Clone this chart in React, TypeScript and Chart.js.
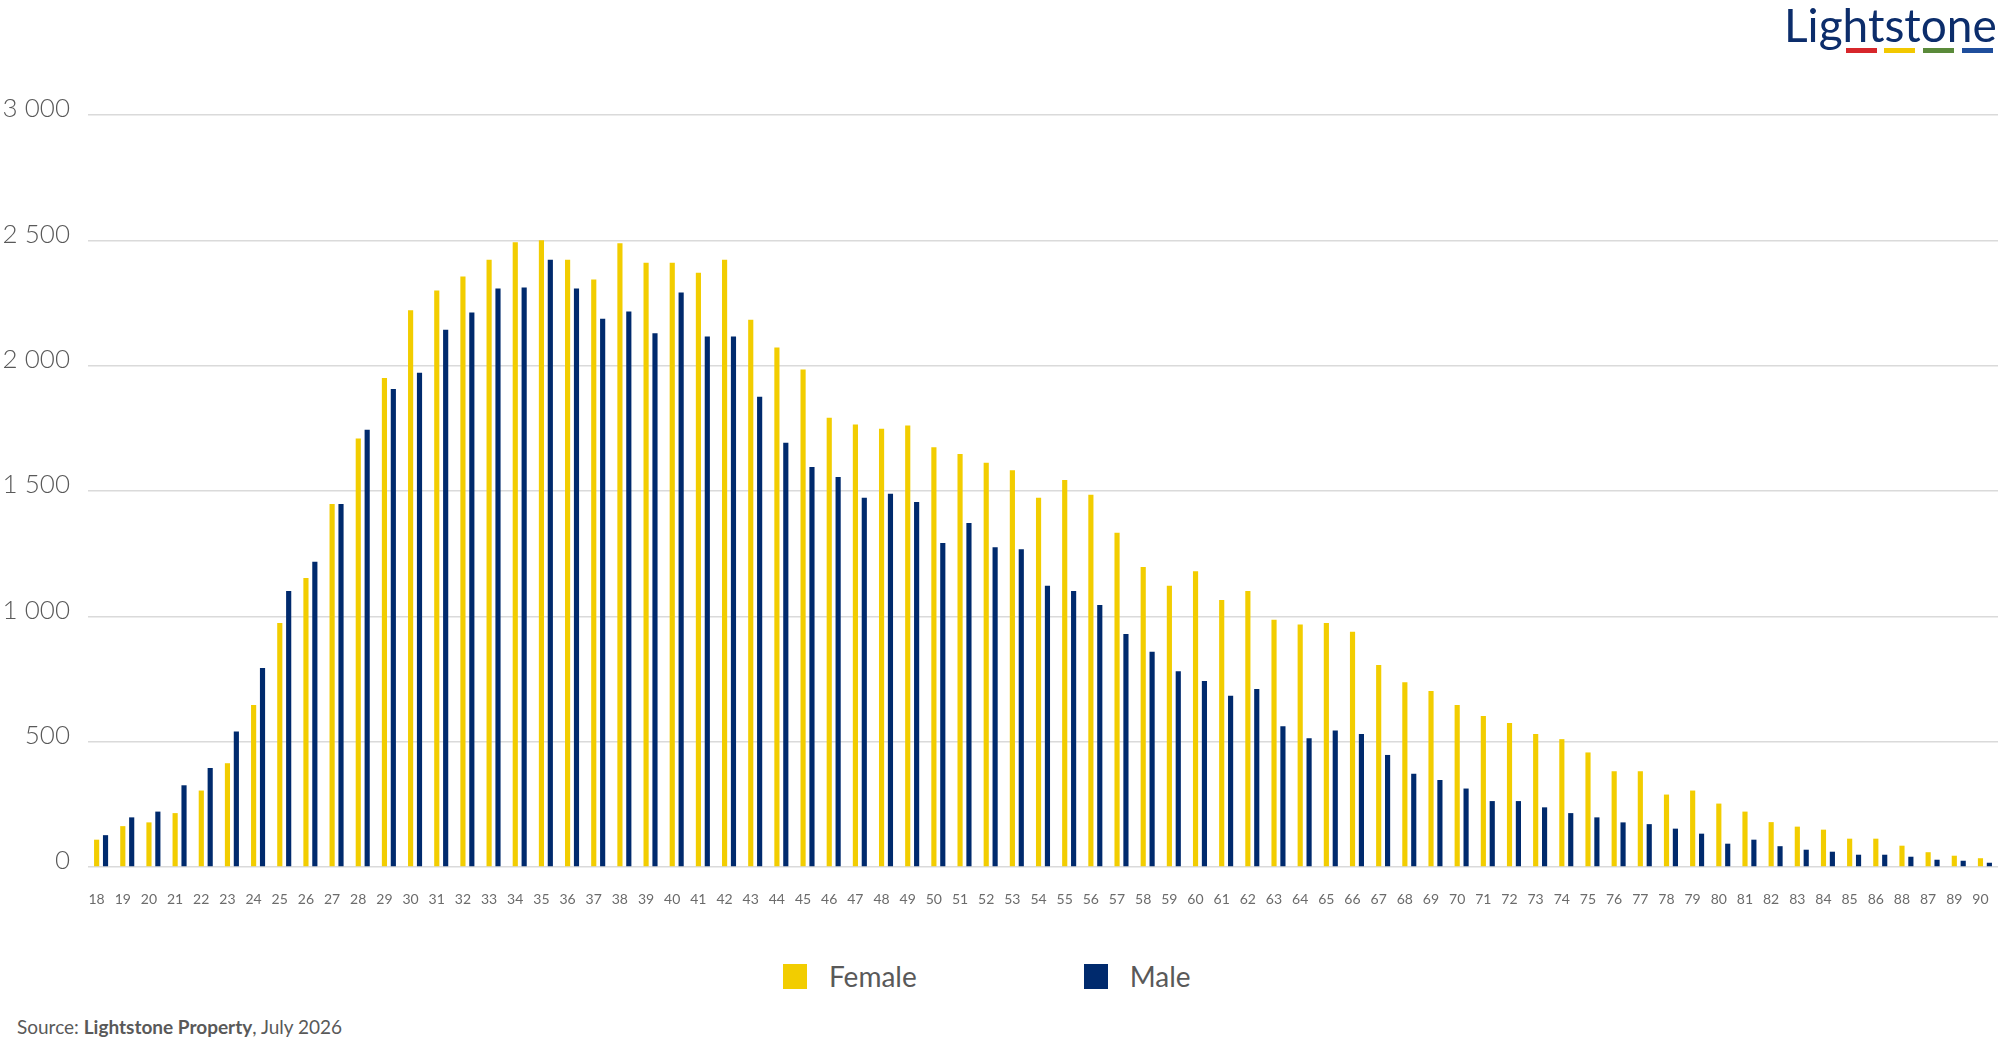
import { useEffect, useRef } from 'react';
import { Chart, registerables } from 'chart.js';

Chart.register(...registerables);

// age groups, in the order the source shows them
const ages = [
  '18', '19', '20', '21', '22', '23', '24', '25', '26', '27',
  '28', '29', '30', '31', '32', '33', '34', '35', '36', '37',
  '38', '39', '40', '41', '42', '43', '44', '45', '46', '47',
  '48', '49', '50', '51', '52', '53', '54', '55', '56', '57',
  '58', '59', '60', '61', '62', '63', '64', '65', '66', '67',
  '68', '69', '70', '71', '72', '73', '74', '75', '76', '77',
  '78', '79', '80', '81', '82', '83', '84', '85', '86', '88',
  '87', '89', '90',
];

const female = [
  109, 163, 178, 215, 305, 414, 646, 973, 1153, 1448,
  1709, 1951, 2221, 2300, 2356, 2423, 2492, 2500, 2423, 2344,
  2488, 2411, 2411, 2371, 2423, 2183, 2072, 1985, 1792, 1765,
  1748, 1761, 1675, 1648, 1613, 1583, 1473, 1544, 1485, 1333,
  1197, 1122, 1180, 1065, 1101, 986, 967, 973, 938, 806,
  737, 702, 646, 602, 574, 531, 510, 457, 382, 382,
  289, 305, 253, 221, 179, 161, 149, 113, 113, 85,
  59, 45, 35,
];

const male = [
  127, 198, 221, 326, 395, 541, 794, 1101, 1218, 1448,
  1744, 1907, 1972, 2143, 2212, 2308, 2312, 2423, 2308, 2187,
  2216, 2129, 2292, 2116, 2116, 1876, 1692, 1596, 1556, 1473,
  1489, 1456, 1293, 1372, 1276, 1268, 1122, 1101, 1045, 930,
  859, 781, 742, 683, 710, 562, 514, 545, 531, 447,
  372, 347, 313, 263, 263, 238, 215, 198, 178, 171,
  153, 133, 93, 109, 83, 69, 61, 49, 49, 41,
  29, 25, 17,
];

const seriesNames = ['Female', 'Male'];
const seriesColors = ['#F2CD00', '#002A6D'];
const yMin = 0;
const yMax = 3000;
const yStep = 500;

const FONT = 'Lato, "Open Sans", sans-serif';
const GREY = '#595959';

function spaced(v: number) {
  return String(v).replace(/\B(?=(\d{3})+(?!\d))/g, ' ');
}

function AgeChart() {
  const canvasRef = useRef<HTMLCanvasElement | null>(null);

  useEffect(() => {
    if (!canvasRef.current) return;
    const chart = new Chart(canvasRef.current, {
      type: 'bar',
      data: {
        labels: ages,
        datasets: [female, male].map((d, i) => ({
          label: seriesNames[i],
          data: d,
          backgroundColor: seriesColors[i],
          categoryPercentage: 0.68,
          barPercentage: 0.58,
        })),
      },
      options: {
        responsive: false,
        animation: false,
        layout: { padding: { top: 115, right: 2, left: 0, bottom: 0 } },
        plugins: {
          legend: { display: false },
          tooltip: { enabled: false },
        },
        scales: {
          x: {
            // hidden tick marks still push the labels down without adding side padding
            grid: { display: false, drawTicks: true, tickLength: 22 },
            border: { display: false },
            ticks: {
              color: '#6b6b6b',
              font: { family: FONT, size: 14 },
              padding: 2,
              labelOffset: -4.5,
              autoSkip: false,
              maxRotation: 0,
            },
            afterFit: (s: any) => {
              s.height = 63;
            },
          },
          y: {
            min: yMin,
            max: yMax,
            grid: { color: '#dadada', lineWidth: 1.5, drawTicks: false },
            border: { display: false },
            ticks: {
              stepSize: yStep,
              padding: 18,
              labelOffset: -6,
              color: GREY,
              font: { family: FONT, size: 26, weight: 300 },
              callback: (v: any) => spaced(Number(v)),
            },
            afterFit: (s: any) => {
              s.width = 88;
            },
          },
        },
      },
    });
    return () => chart.destroy();
  }, []);

  return <canvas ref={canvasRef} width={2000} height={930} style={{ display: 'block' }} />;
}

export default function App() {
  const bars = ['#D7262B', '#F2C800', '#5A8A3A', '#1F4E9C'];
  const barLeft = [1846, 1884, 1923, 1962];
  return (
    <div
      style={{
        position: 'absolute',
        left: 0,
        top: 0,
        width: 2000,
        height: 1050,
        background: '#fff',
        fontFamily: FONT,
        overflow: 'hidden',
      }}
    >
      <AgeChart />

      {/* logo */}
      <div
        style={{
          position: 'absolute',
          left: 1784,
          top: 2,
          fontSize: 46,
          lineHeight: '46px',
          color: '#0C2D6B',
        }}
      >
        Lightstone
      </div>
      {bars.map((c, i) => (
        <div
          key={c}
          style={{ position: 'absolute', left: barLeft[i], top: 48, width: 31, height: 5, background: c }}
        />
      ))}

      {/* legend */}
      <div style={{ position: 'absolute', left: 783, top: 964, display: 'flex', gap: 167 }}>
        {seriesNames.map((n, i) => (
          <div key={n} style={{ display: 'flex', alignItems: 'center', gap: 22 }}>
            <div style={{ width: 24, height: 25, background: seriesColors[i] }} />
            <span style={{ fontSize: 28, lineHeight: '25px', color: GREY }}>{n}</span>
          </div>
        ))}
      </div>

      {/* source */}
      <div
        style={{
          position: 'absolute',
          left: 17,
          top: 1017,
          fontSize: 19,
          lineHeight: '19px',
          color: GREY,
        }}
      >
        Source: <b>Lightstone Property</b>, July 2026
      </div>
    </div>
  );
}
